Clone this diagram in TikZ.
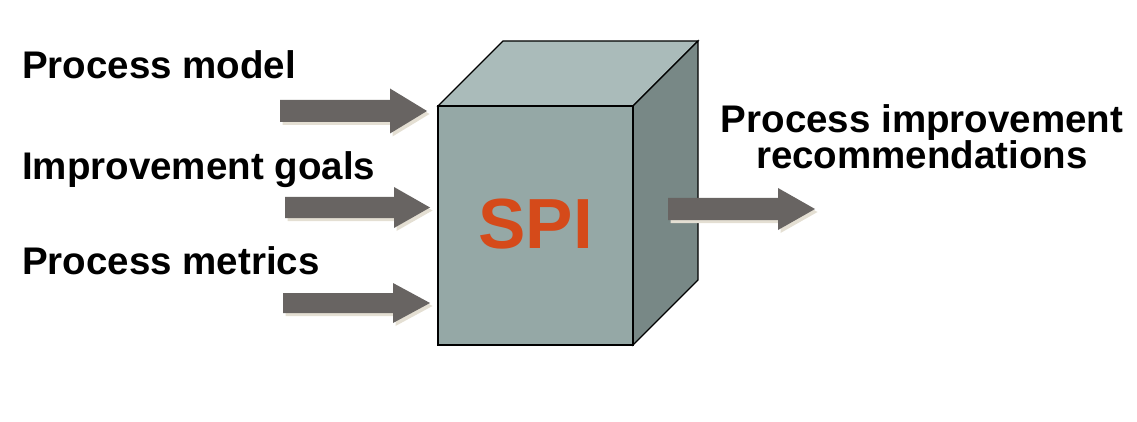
\documentclass[tikz,border=0pt]{standalone}
\usepackage{fontspec}
\setmainfont{Liberation Sans}
\definecolor{arrowgray}{HTML}{686462}
\definecolor{shadowbeige}{HTML}{E4DFD3}
\definecolor{frontface}{HTML}{95A8A6}
\definecolor{topface}{HTML}{AABBBA}
\definecolor{sideface}{HTML}{788886}
\definecolor{spired}{HTML}{D54A1A}
% #1 = shaft start x, #2 = centre y, #3 = shaft end x, #4 = tip x, #5 = shaft half height, #6 = head half height
\newcommand{\myblockarrow}[6]{%
  \fill[shadowbeige,shift={(2.5,3)}] (#1,#2-#5) -- (#3,#2-#5) -- (#3,#2-#6) -- (#4,#2) -- (#3,#2+#6) -- (#3,#2+#5) -- (#1,#2+#5) -- cycle;
  \fill[arrowgray] (#1,#2-#5) -- (#3,#2-#5) -- (#3,#2-#6) -- (#4,#2) -- (#3,#2+#6) -- (#3,#2+#5) -- (#1,#2+#5) -- cycle;
}
\begin{document}
\begin{tikzpicture}[x=1pt,y=-1pt,
  lbl/.style={font=\fontsize{38.5}{35}\selectfont\bfseries, inner sep=0pt},
  face/.style={draw=black, line width=1.2pt, line join=miter}]
\useasboundingbox (0,0) rectangle (1137,422);
% cube
\coordinate (ftl) at (438,106);
\coordinate (ftr) at (633,106);
\coordinate (fbr) at (633,345);
\coordinate (fbl) at (438,345);
\coordinate (btl) at (503,41);
\coordinate (btr) at (698,41);
\coordinate (bbr) at (698,280);
\filldraw[face, fill=topface] (ftl) -- (btl) -- (btr) -- (ftr) -- cycle;
\filldraw[face, fill=sideface] (ftr) -- (btr) -- (bbr) -- (fbr) -- cycle;
\filldraw[face, fill=frontface] (ftl) -- (ftr) -- (fbr) -- (fbl) -- cycle;
\node[font=\fontsize{71}{71}\selectfont\bfseries, text=spired, inner sep=0pt, anchor=base] (spi) at (535.5,248) {SPI};
% arrows
\myblockarrow{280}{111}{390}{427}{11}{22.5}
\myblockarrow{285}{207.5}{394}{430}{10.5}{20.5}
\myblockarrow{283}{303}{393}{430}{10}{20}
\myblockarrow{668}{209}{778}{815}{11}{21}
% labels
\node[lbl, anchor=base west] (pm) at (22,79) {Process model};
\node[lbl, anchor=base west] (ig) at (22,179) {Improvement goals};
\node[lbl, anchor=base west] (pmet) at (22,274) {Process metrics};
\node[lbl, anchor=base, align=center] (pir) at (922,169) {Process improvement\\recommendations};
\end{tikzpicture}
\end{document}
